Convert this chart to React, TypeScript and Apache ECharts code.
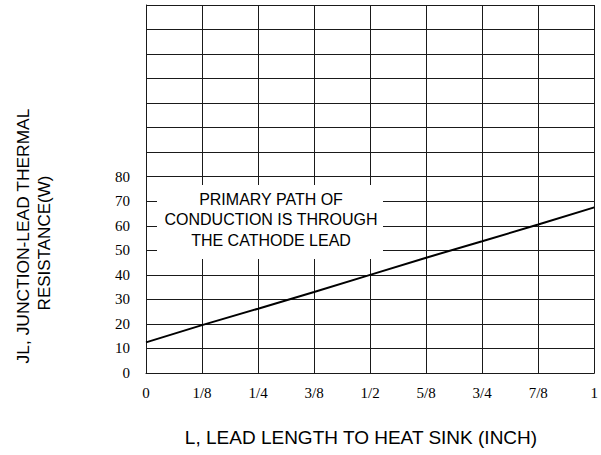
import React, { useEffect, useRef } from "react";
import * as echarts from "echarts";

const xTickLabels = ["0", "1/8", "1/4", "3/8", "1/2", "5/8", "3/4", "7/8", "1"];
const lineX = [0, 0.125, 0.25, 0.375, 0.5, 0.625, 0.75, 0.875, 1];
const lineY = [12.5, 19.5, 26.2, 33, 40, 47, 53.7, 60.5, 67.5];
const noteLines = ["PRIMARY PATH OF", "CONDUCTION IS THROUGH", "THE CATHODE LEAD"];
const yLabelMax = 80;
const xTitle = "L, LEAD LENGTH TO HEAT SINK (INCH)";
const yTitle1 = "JL, JUNCTION-LEAD THERMAL";
const yTitle2 = "RESISTANCE(W)";

export default function App() {
  const ref = useRef<HTMLDivElement>(null);
  useEffect(() => {
    if (!ref.current) return;
    const chart = echarts.init(ref.current, null, { renderer: "svg" });
    const gridColor = "#1a1a1a";
    const sans = "'Liberation Sans', Arial, sans-serif";
    chart.setOption({
      animation: false,
      backgroundColor: "#fff",
      grid: { left: 146, right: 3, top: 5, bottom: 82, containLabel: false },
      xAxis: {
        type: "value",
        min: 0,
        max: 1,
        interval: 0.125,
        axisLine: { show: true, lineStyle: { color: gridColor, width: 1 } },
        axisTick: { show: false },
        splitLine: { show: true, lineStyle: { color: gridColor, width: 1 } },
        axisLabel: {
          color: "#000",
          fontFamily: "Liberation Serif",
          fontSize: 15,
          margin: 12,
          formatter: (v: number) => {
            const i = Math.round(v / 0.125);
            return xTickLabels[i] ?? "";
          },
        },
      },
      yAxis: {
        type: "value",
        min: 0,
        max: 150,
        interval: 10,
        axisLine: { show: true, lineStyle: { color: gridColor, width: 1 } },
        axisTick: { show: false },
        splitLine: { show: true, lineStyle: { color: gridColor, width: 1 } },
        axisLabel: {
          color: "#000",
          fontFamily: "Liberation Serif",
          fontSize: 15,
          margin: 16,
          formatter: (v: number) => (v <= yLabelMax ? String(v) : ""),
        },
      },
      series: [
        {
          type: "line",
          data: lineX.map((x, i) => [x, lineY[i]]),
          showSymbol: false,
          symbol: "none",
          lineStyle: { color: "#000", width: 2 },
          z: 5,
        },
      ],
      graphic: [
        {
          type: "rect",
          z: 1,
          shape: { x: 157, y: 185, width: 226, height: 74 },
          style: { fill: "#fff" },
        },
        ...noteLines.map((t, i) => ({
          type: "text",
          z: 6,
          x: 271,
          y: 199 + i * 20.7,
          style: {
            text: t,
            fill: "#000",
            font: `16px ${sans}`,
            align: "center",
            verticalAlign: "middle",
          },
        })),
        {
          type: "text",
          x: 361,
          y: 437,
          style: {
            text: xTitle,
            fill: "#000",
            font: `19px ${sans}`,
            align: "center",
            verticalAlign: "middle",
          },
        },
        {
          type: "text",
          x: 23,
          y: 236,
          rotation: Math.PI / 2,
          style: {
            text: yTitle1,
            fill: "#000",
            font: `17.4px ${sans}`,
            align: "center",
            verticalAlign: "middle",
          },
        },
        {
          type: "text",
          x: 44,
          y: 243,
          rotation: Math.PI / 2,
          style: {
            text: yTitle2,
            fill: "#000",
            font: `17px ${sans}`,
            align: "center",
            verticalAlign: "middle",
          },
        },
      ],
    });
    return () => chart.dispose();
  }, []);
  return (
    <div
      ref={ref}
      style={{ position: "fixed", left: 0, top: 0, width: 601, height: 455 }}
    />
  );
}
